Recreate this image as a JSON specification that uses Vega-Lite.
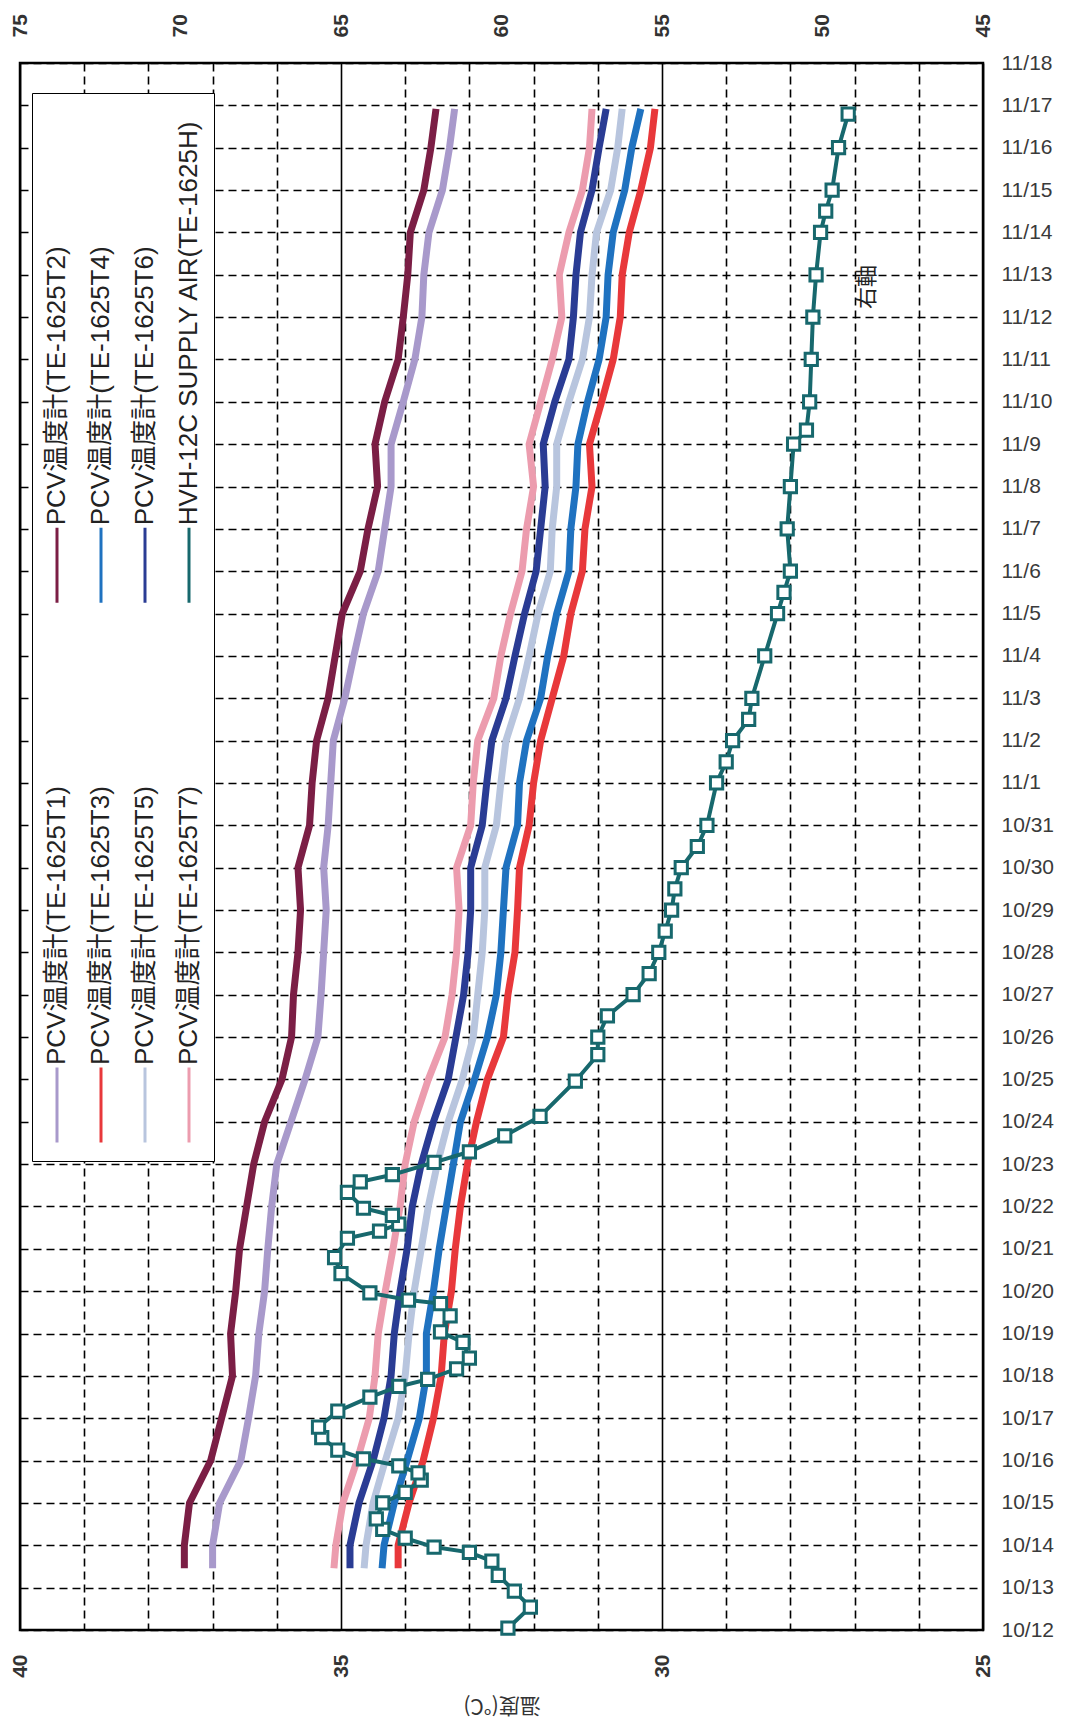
{
  "$schema": "https://vega.github.io/schema/vega-lite/v6.json",
  "width": 963,
  "height": 1567,
  "autosize": {"type": "none"},
  "padding": {"left": 20, "top": 63, "right": 85, "bottom": 92},
  "background": "white",
  "config": {
    "view": {"stroke": "black", "strokeWidth": 2.5},
    "font": "Liberation Sans, Noto Sans CJK JP"
  },
  "datasets": {
    "pcv": [
      {"date": "2011-10-13T11:00", "PCV温度計(TE-1625T1)": 37.0, "PCV温度計(TE-1625T2)": 37.44, "PCV温度計(TE-1625T3)": 34.11, "PCV温度計(TE-1625T4)": 34.36, "PCV温度計(TE-1625T5)": 34.64, "PCV温度計(TE-1625T6)": 34.86, "PCV温度計(TE-1625T7)": 35.11},
      {"date": "2011-10-14T00:00", "PCV温度計(TE-1625T1)": 37.0, "PCV温度計(TE-1625T2)": 37.44, "PCV温度計(TE-1625T3)": 34.11, "PCV温度計(TE-1625T4)": 34.33, "PCV温度計(TE-1625T5)": 34.61, "PCV温度計(TE-1625T6)": 34.86, "PCV温度計(TE-1625T7)": 35.08},
      {"date": "2011-10-15T00:00", "PCV温度計(TE-1625T1)": 36.89, "PCV温度計(TE-1625T2)": 37.36, "PCV温度計(TE-1625T3)": 33.94, "PCV温度計(TE-1625T4)": 34.17, "PCV温度計(TE-1625T5)": 34.5, "PCV温度計(TE-1625T6)": 34.72, "PCV温度計(TE-1625T7)": 34.97},
      {"date": "2011-10-16T00:00", "PCV温度計(TE-1625T1)": 36.56, "PCV温度計(TE-1625T2)": 37.03, "PCV温度計(TE-1625T3)": 33.72, "PCV温度計(TE-1625T4)": 33.97, "PCV温度計(TE-1625T5)": 34.31, "PCV温度計(TE-1625T6)": 34.5, "PCV温度計(TE-1625T7)": 34.75},
      {"date": "2011-10-17T00:00", "PCV温度計(TE-1625T1)": 36.44, "PCV温度計(TE-1625T2)": 36.86, "PCV温度計(TE-1625T3)": 33.56, "PCV温度計(TE-1625T4)": 33.78, "PCV温度計(TE-1625T5)": 34.11, "PCV温度計(TE-1625T6)": 34.33, "PCV温度計(TE-1625T7)": 34.56},
      {"date": "2011-10-18T00:00", "PCV温度計(TE-1625T1)": 36.33, "PCV温度計(TE-1625T2)": 36.69, "PCV温度計(TE-1625T3)": 33.44, "PCV温度計(TE-1625T4)": 33.67, "PCV温度計(TE-1625T5)": 34.0, "PCV温度計(TE-1625T6)": 34.22, "PCV温度計(TE-1625T7)": 34.47},
      {"date": "2011-10-19T00:00", "PCV温度計(TE-1625T1)": 36.28, "PCV温度計(TE-1625T2)": 36.72, "PCV温度計(TE-1625T3)": 33.39, "PCV温度計(TE-1625T4)": 33.67, "PCV温度計(TE-1625T5)": 33.94, "PCV温度計(TE-1625T6)": 34.17, "PCV温度計(TE-1625T7)": 34.42},
      {"date": "2011-10-20T00:00", "PCV温度計(TE-1625T1)": 36.19, "PCV温度計(TE-1625T2)": 36.64, "PCV温度計(TE-1625T3)": 33.28, "PCV温度計(TE-1625T4)": 33.56, "PCV温度計(TE-1625T5)": 33.86, "PCV温度計(TE-1625T6)": 34.08, "PCV温度計(TE-1625T7)": 34.31},
      {"date": "2011-10-21T00:00", "PCV温度計(TE-1625T1)": 36.14, "PCV温度計(TE-1625T2)": 36.58, "PCV温度計(TE-1625T3)": 33.22, "PCV温度計(TE-1625T4)": 33.47, "PCV温度計(TE-1625T5)": 33.75, "PCV温度計(TE-1625T6)": 33.97, "PCV温度計(TE-1625T7)": 34.19},
      {"date": "2011-10-22T00:00", "PCV温度計(TE-1625T1)": 36.08, "PCV温度計(TE-1625T2)": 36.47, "PCV温度計(TE-1625T3)": 33.14, "PCV温度計(TE-1625T4)": 33.36, "PCV温度計(TE-1625T5)": 33.64, "PCV温度計(TE-1625T6)": 33.89, "PCV温度計(TE-1625T7)": 34.08},
      {"date": "2011-10-23T00:00", "PCV温度計(TE-1625T1)": 36.0, "PCV温度計(TE-1625T2)": 36.36, "PCV温度計(TE-1625T3)": 33.03, "PCV温度計(TE-1625T4)": 33.25, "PCV温度計(TE-1625T5)": 33.5, "PCV温度計(TE-1625T6)": 33.75, "PCV温度計(TE-1625T7)": 34.0},
      {"date": "2011-10-24T00:00", "PCV温度計(TE-1625T1)": 35.78, "PCV温度計(TE-1625T2)": 36.19, "PCV温度計(TE-1625T3)": 32.89, "PCV温度計(TE-1625T4)": 33.14, "PCV温度計(TE-1625T5)": 33.33, "PCV温度計(TE-1625T6)": 33.56, "PCV温度計(TE-1625T7)": 33.86},
      {"date": "2011-10-25T00:00", "PCV温度計(TE-1625T1)": 35.56, "PCV温度計(TE-1625T2)": 35.92, "PCV温度計(TE-1625T3)": 32.72, "PCV温度計(TE-1625T4)": 32.92, "PCV温度計(TE-1625T5)": 33.11, "PCV温度計(TE-1625T6)": 33.33, "PCV温度計(TE-1625T7)": 33.64},
      {"date": "2011-10-26T00:00", "PCV温度計(TE-1625T1)": 35.36, "PCV温度計(TE-1625T2)": 35.77, "PCV温度計(TE-1625T3)": 32.47, "PCV温度計(TE-1625T4)": 32.72, "PCV温度計(TE-1625T5)": 32.94, "PCV温度計(TE-1625T6)": 33.21, "PCV温度計(TE-1625T7)": 33.38},
      {"date": "2011-10-27T00:00", "PCV温度計(TE-1625T1)": 35.31, "PCV温度計(TE-1625T2)": 35.74, "PCV温度計(TE-1625T3)": 32.4, "PCV温度計(TE-1625T4)": 32.58, "PCV温度計(TE-1625T5)": 32.87, "PCV温度計(TE-1625T6)": 33.09, "PCV温度計(TE-1625T7)": 33.27},
      {"date": "2011-10-28T00:00", "PCV温度計(TE-1625T1)": 35.27, "PCV温度計(TE-1625T2)": 35.67, "PCV温度計(TE-1625T3)": 32.29, "PCV温度計(TE-1625T4)": 32.51, "PCV温度計(TE-1625T5)": 32.8, "PCV温度計(TE-1625T6)": 33.02, "PCV温度計(TE-1625T7)": 33.2},
      {"date": "2011-10-29T00:00", "PCV温度計(TE-1625T1)": 35.23, "PCV温度計(TE-1625T2)": 35.63, "PCV温度計(TE-1625T3)": 32.25, "PCV温度計(TE-1625T4)": 32.47, "PCV温度計(TE-1625T5)": 32.76, "PCV温度計(TE-1625T6)": 32.98, "PCV温度計(TE-1625T7)": 33.16},
      {"date": "2011-10-30T00:00", "PCV温度計(TE-1625T1)": 35.27, "PCV温度計(TE-1625T2)": 35.67, "PCV温度計(TE-1625T3)": 32.22, "PCV温度計(TE-1625T4)": 32.43, "PCV温度計(TE-1625T5)": 32.76, "PCV温度計(TE-1625T6)": 32.98, "PCV温度計(TE-1625T7)": 33.2},
      {"date": "2011-10-31T00:00", "PCV温度計(TE-1625T1)": 35.2, "PCV温度計(TE-1625T2)": 35.49, "PCV温度計(TE-1625T3)": 32.07, "PCV温度計(TE-1625T4)": 32.25, "PCV温度計(TE-1625T5)": 32.58, "PCV温度計(TE-1625T6)": 32.8, "PCV温度計(TE-1625T7)": 32.98},
      {"date": "2011-11-01T00:00", "PCV温度計(TE-1625T1)": 35.16, "PCV温度計(TE-1625T2)": 35.45, "PCV温度計(TE-1625T3)": 32.0, "PCV温度計(TE-1625T4)": 32.22, "PCV温度計(TE-1625T5)": 32.51, "PCV温度計(TE-1625T6)": 32.73, "PCV温度計(TE-1625T7)": 32.94},
      {"date": "2011-11-02T00:00", "PCV温度計(TE-1625T1)": 35.12, "PCV温度計(TE-1625T2)": 35.38, "PCV温度計(TE-1625T3)": 31.89, "PCV温度計(TE-1625T4)": 32.11, "PCV温度計(TE-1625T5)": 32.43, "PCV温度計(TE-1625T6)": 32.65, "PCV温度計(TE-1625T7)": 32.87},
      {"date": "2011-11-03T00:00", "PCV温度計(TE-1625T1)": 34.94, "PCV温度計(TE-1625T2)": 35.2, "PCV温度計(TE-1625T3)": 31.71, "PCV温度計(TE-1625T4)": 31.89, "PCV温度計(TE-1625T5)": 32.22, "PCV温度計(TE-1625T6)": 32.43, "PCV温度計(TE-1625T7)": 32.62},
      {"date": "2011-11-04T00:00", "PCV温度計(TE-1625T1)": 34.8, "PCV温度計(TE-1625T2)": 35.09, "PCV温度計(TE-1625T3)": 31.53, "PCV温度計(TE-1625T4)": 31.78, "PCV温度計(TE-1625T5)": 32.07, "PCV温度計(TE-1625T6)": 32.29, "PCV温度計(TE-1625T7)": 32.51},
      {"date": "2011-11-05T00:00", "PCV温度計(TE-1625T1)": 34.65, "PCV温度計(TE-1625T2)": 34.98, "PCV温度計(TE-1625T3)": 31.42, "PCV温度計(TE-1625T4)": 31.64, "PCV温度計(TE-1625T5)": 31.93, "PCV温度計(TE-1625T6)": 32.14, "PCV温度計(TE-1625T7)": 32.36},
      {"date": "2011-11-06T00:00", "PCV温度計(TE-1625T1)": 34.42, "PCV温度計(TE-1625T2)": 34.7, "PCV温度計(TE-1625T3)": 31.24, "PCV温度計(TE-1625T4)": 31.45, "PCV温度計(TE-1625T5)": 31.74, "PCV温度計(TE-1625T6)": 31.96, "PCV温度計(TE-1625T7)": 32.18},
      {"date": "2011-11-07T00:00", "PCV温度計(TE-1625T1)": 34.32, "PCV温度計(TE-1625T2)": 34.58, "PCV温度計(TE-1625T3)": 31.2, "PCV温度計(TE-1625T4)": 31.42, "PCV温度計(TE-1625T5)": 31.71, "PCV温度計(TE-1625T6)": 31.89, "PCV温度計(TE-1625T7)": 32.11},
      {"date": "2011-11-08T00:00", "PCV温度計(TE-1625T1)": 34.22, "PCV温度計(TE-1625T2)": 34.43, "PCV温度計(TE-1625T3)": 31.09, "PCV温度計(TE-1625T4)": 31.34, "PCV温度計(TE-1625T5)": 31.64, "PCV温度計(TE-1625T6)": 31.82, "PCV温度計(TE-1625T7)": 32.0},
      {"date": "2011-11-09T00:00", "PCV温度計(TE-1625T1)": 34.22, "PCV温度計(TE-1625T2)": 34.47, "PCV温度計(TE-1625T3)": 31.13, "PCV温度計(TE-1625T4)": 31.31, "PCV温度計(TE-1625T5)": 31.64, "PCV温度計(TE-1625T6)": 31.85, "PCV温度計(TE-1625T7)": 32.07},
      {"date": "2011-11-10T00:00", "PCV温度計(TE-1625T1)": 34.03, "PCV温度計(TE-1625T2)": 34.32, "PCV温度計(TE-1625T3)": 30.94, "PCV温度計(TE-1625T4)": 31.16, "PCV温度計(TE-1625T5)": 31.45, "PCV温度計(TE-1625T6)": 31.67, "PCV温度計(TE-1625T7)": 31.89},
      {"date": "2011-11-11T00:00", "PCV温度計(TE-1625T1)": 33.85, "PCV温度計(TE-1625T2)": 34.11, "PCV温度計(TE-1625T3)": 30.76, "PCV温度計(TE-1625T4)": 30.98, "PCV温度計(TE-1625T5)": 31.24, "PCV温度計(TE-1625T6)": 31.45, "PCV温度計(TE-1625T7)": 31.71},
      {"date": "2011-11-12T00:00", "PCV温度計(TE-1625T1)": 33.74, "PCV温度計(TE-1625T2)": 34.03, "PCV温度計(TE-1625T3)": 30.65, "PCV温度計(TE-1625T4)": 30.87, "PCV温度計(TE-1625T5)": 31.13, "PCV温度計(TE-1625T6)": 31.38, "PCV温度計(TE-1625T7)": 31.56},
      {"date": "2011-11-13T00:00", "PCV温度計(TE-1625T1)": 33.71, "PCV温度計(TE-1625T2)": 33.96, "PCV温度計(TE-1625T3)": 30.62, "PCV温度計(TE-1625T4)": 30.84, "PCV温度計(TE-1625T5)": 31.09, "PCV温度計(TE-1625T6)": 31.34, "PCV温度計(TE-1625T7)": 31.6},
      {"date": "2011-11-14T00:00", "PCV温度計(TE-1625T1)": 33.63, "PCV温度計(TE-1625T2)": 33.92, "PCV温度計(TE-1625T3)": 30.51, "PCV温度計(TE-1625T4)": 30.76, "PCV温度計(TE-1625T5)": 31.02, "PCV温度計(TE-1625T6)": 31.27, "PCV温度計(TE-1625T7)": 31.45},
      {"date": "2011-11-15T00:00", "PCV温度計(TE-1625T1)": 33.42, "PCV温度計(TE-1625T2)": 33.71, "PCV温度計(TE-1625T3)": 30.33, "PCV温度計(TE-1625T4)": 30.58, "PCV温度計(TE-1625T5)": 30.8, "PCV温度計(TE-1625T6)": 31.09, "PCV温度計(TE-1625T7)": 31.24},
      {"date": "2011-11-16T00:00", "PCV温度計(TE-1625T1)": 33.31, "PCV温度計(TE-1625T2)": 33.6, "PCV温度計(TE-1625T3)": 30.18, "PCV温度計(TE-1625T4)": 30.47, "PCV温度計(TE-1625T5)": 30.69, "PCV温度計(TE-1625T6)": 30.98, "PCV温度計(TE-1625T7)": 31.13},
      {"date": "2011-11-16T22:00", "PCV温度計(TE-1625T1)": 33.23, "PCV温度計(TE-1625T2)": 33.52, "PCV温度計(TE-1625T3)": 30.11, "PCV温度計(TE-1625T4)": 30.33, "PCV温度計(TE-1625T5)": 30.62, "PCV温度計(TE-1625T6)": 30.87, "PCV温度計(TE-1625T7)": 31.09}
    ],
    "hvh": [
      {"date": "2011-10-12T01:00", "HVH-12C SUPPLY AIR(TE-1625H)": 59.8},
      {"date": "2011-10-12T13:00", "HVH-12C SUPPLY AIR(TE-1625H)": 59.1},
      {"date": "2011-10-12T22:00", "HVH-12C SUPPLY AIR(TE-1625H)": 59.6},
      {"date": "2011-10-13T07:00", "HVH-12C SUPPLY AIR(TE-1625H)": 60.1},
      {"date": "2011-10-13T15:00", "HVH-12C SUPPLY AIR(TE-1625H)": 60.3},
      {"date": "2011-10-13T20:00", "HVH-12C SUPPLY AIR(TE-1625H)": 61.0},
      {"date": "2011-10-13T23:00", "HVH-12C SUPPLY AIR(TE-1625H)": 62.1},
      {"date": "2011-10-14T04:00", "HVH-12C SUPPLY AIR(TE-1625H)": 63.0},
      {"date": "2011-10-14T09:00", "HVH-12C SUPPLY AIR(TE-1625H)": 63.7},
      {"date": "2011-10-14T15:00", "HVH-12C SUPPLY AIR(TE-1625H)": 63.9},
      {"date": "2011-10-15T00:00", "HVH-12C SUPPLY AIR(TE-1625H)": 63.7},
      {"date": "2011-10-15T06:00", "HVH-12C SUPPLY AIR(TE-1625H)": 63.0},
      {"date": "2011-10-15T13:00", "HVH-12C SUPPLY AIR(TE-1625H)": 62.5},
      {"date": "2011-10-15T17:00", "HVH-12C SUPPLY AIR(TE-1625H)": 62.6},
      {"date": "2011-10-15T21:00", "HVH-12C SUPPLY AIR(TE-1625H)": 63.2},
      {"date": "2011-10-16T01:00", "HVH-12C SUPPLY AIR(TE-1625H)": 64.3},
      {"date": "2011-10-16T06:00", "HVH-12C SUPPLY AIR(TE-1625H)": 65.1},
      {"date": "2011-10-16T13:00", "HVH-12C SUPPLY AIR(TE-1625H)": 65.6},
      {"date": "2011-10-16T19:00", "HVH-12C SUPPLY AIR(TE-1625H)": 65.7},
      {"date": "2011-10-17T04:00", "HVH-12C SUPPLY AIR(TE-1625H)": 65.1},
      {"date": "2011-10-17T12:00", "HVH-12C SUPPLY AIR(TE-1625H)": 64.1},
      {"date": "2011-10-17T18:00", "HVH-12C SUPPLY AIR(TE-1625H)": 63.2},
      {"date": "2011-10-17T22:00", "HVH-12C SUPPLY AIR(TE-1625H)": 62.3},
      {"date": "2011-10-18T04:00", "HVH-12C SUPPLY AIR(TE-1625H)": 61.4},
      {"date": "2011-10-18T10:00", "HVH-12C SUPPLY AIR(TE-1625H)": 61.0},
      {"date": "2011-10-18T19:00", "HVH-12C SUPPLY AIR(TE-1625H)": 61.2},
      {"date": "2011-10-19T01:00", "HVH-12C SUPPLY AIR(TE-1625H)": 61.9},
      {"date": "2011-10-19T10:00", "HVH-12C SUPPLY AIR(TE-1625H)": 61.6},
      {"date": "2011-10-19T17:00", "HVH-12C SUPPLY AIR(TE-1625H)": 61.9},
      {"date": "2011-10-19T19:00", "HVH-12C SUPPLY AIR(TE-1625H)": 62.9},
      {"date": "2011-10-19T23:00", "HVH-12C SUPPLY AIR(TE-1625H)": 64.1},
      {"date": "2011-10-20T10:00", "HVH-12C SUPPLY AIR(TE-1625H)": 65.0},
      {"date": "2011-10-20T19:00", "HVH-12C SUPPLY AIR(TE-1625H)": 65.2},
      {"date": "2011-10-21T06:00", "HVH-12C SUPPLY AIR(TE-1625H)": 64.8},
      {"date": "2011-10-21T10:00", "HVH-12C SUPPLY AIR(TE-1625H)": 63.8},
      {"date": "2011-10-21T14:00", "HVH-12C SUPPLY AIR(TE-1625H)": 63.2},
      {"date": "2011-10-21T19:00", "HVH-12C SUPPLY AIR(TE-1625H)": 63.4},
      {"date": "2011-10-21T23:00", "HVH-12C SUPPLY AIR(TE-1625H)": 64.3},
      {"date": "2011-10-22T08:00", "HVH-12C SUPPLY AIR(TE-1625H)": 64.8},
      {"date": "2011-10-22T14:00", "HVH-12C SUPPLY AIR(TE-1625H)": 64.4},
      {"date": "2011-10-22T18:00", "HVH-12C SUPPLY AIR(TE-1625H)": 63.4},
      {"date": "2011-10-23T01:00", "HVH-12C SUPPLY AIR(TE-1625H)": 62.1},
      {"date": "2011-10-23T07:00", "HVH-12C SUPPLY AIR(TE-1625H)": 61.0},
      {"date": "2011-10-23T16:00", "HVH-12C SUPPLY AIR(TE-1625H)": 59.9},
      {"date": "2011-10-24T03:00", "HVH-12C SUPPLY AIR(TE-1625H)": 58.8},
      {"date": "2011-10-24T23:00", "HVH-12C SUPPLY AIR(TE-1625H)": 57.7},
      {"date": "2011-10-25T14:00", "HVH-12C SUPPLY AIR(TE-1625H)": 57.0},
      {"date": "2011-10-26T00:00", "HVH-12C SUPPLY AIR(TE-1625H)": 57.0},
      {"date": "2011-10-26T12:00", "HVH-12C SUPPLY AIR(TE-1625H)": 56.7},
      {"date": "2011-10-27T00:00", "HVH-12C SUPPLY AIR(TE-1625H)": 55.9},
      {"date": "2011-10-27T12:00", "HVH-12C SUPPLY AIR(TE-1625H)": 55.4},
      {"date": "2011-10-28T00:00", "HVH-12C SUPPLY AIR(TE-1625H)": 55.1},
      {"date": "2011-10-28T12:00", "HVH-12C SUPPLY AIR(TE-1625H)": 54.9},
      {"date": "2011-10-29T00:00", "HVH-12C SUPPLY AIR(TE-1625H)": 54.7},
      {"date": "2011-10-29T12:00", "HVH-12C SUPPLY AIR(TE-1625H)": 54.6},
      {"date": "2011-10-30T00:00", "HVH-12C SUPPLY AIR(TE-1625H)": 54.4},
      {"date": "2011-10-30T12:00", "HVH-12C SUPPLY AIR(TE-1625H)": 53.9},
      {"date": "2011-10-31T00:00", "HVH-12C SUPPLY AIR(TE-1625H)": 53.6},
      {"date": "2011-11-01T00:00", "HVH-12C SUPPLY AIR(TE-1625H)": 53.3},
      {"date": "2011-11-01T12:00", "HVH-12C SUPPLY AIR(TE-1625H)": 53.0},
      {"date": "2011-11-02T00:00", "HVH-12C SUPPLY AIR(TE-1625H)": 52.8},
      {"date": "2011-11-02T12:00", "HVH-12C SUPPLY AIR(TE-1625H)": 52.3},
      {"date": "2011-11-03T00:00", "HVH-12C SUPPLY AIR(TE-1625H)": 52.2},
      {"date": "2011-11-04T00:00", "HVH-12C SUPPLY AIR(TE-1625H)": 51.8},
      {"date": "2011-11-05T00:00", "HVH-12C SUPPLY AIR(TE-1625H)": 51.4},
      {"date": "2011-11-05T12:00", "HVH-12C SUPPLY AIR(TE-1625H)": 51.2},
      {"date": "2011-11-06T00:00", "HVH-12C SUPPLY AIR(TE-1625H)": 51.0},
      {"date": "2011-11-07T00:00", "HVH-12C SUPPLY AIR(TE-1625H)": 51.1},
      {"date": "2011-11-08T00:00", "HVH-12C SUPPLY AIR(TE-1625H)": 51.0},
      {"date": "2011-11-09T00:00", "HVH-12C SUPPLY AIR(TE-1625H)": 50.9},
      {"date": "2011-11-09T08:00", "HVH-12C SUPPLY AIR(TE-1625H)": 50.5},
      {"date": "2011-11-10T00:00", "HVH-12C SUPPLY AIR(TE-1625H)": 50.4},
      {"date": "2011-11-11T00:00", "HVH-12C SUPPLY AIR(TE-1625H)": 50.35},
      {"date": "2011-11-12T00:00", "HVH-12C SUPPLY AIR(TE-1625H)": 50.3},
      {"date": "2011-11-13T00:00", "HVH-12C SUPPLY AIR(TE-1625H)": 50.2},
      {"date": "2011-11-14T00:00", "HVH-12C SUPPLY AIR(TE-1625H)": 50.06},
      {"date": "2011-11-14T12:00", "HVH-12C SUPPLY AIR(TE-1625H)": 49.9},
      {"date": "2011-11-15T00:00", "HVH-12C SUPPLY AIR(TE-1625H)": 49.7},
      {"date": "2011-11-16T00:00", "HVH-12C SUPPLY AIR(TE-1625H)": 49.5},
      {"date": "2011-11-16T19:00", "HVH-12C SUPPLY AIR(TE-1625H)": 49.2}
    ]
  },
  "resolve": {"scale": {"x": "independent"}, "axis": {"x": "independent"}},
  "layer": [
    {
      "data": {"name": "pcv"},
      "transform": [{"fold": ["PCV温度計(TE-1625T1)", "PCV温度計(TE-1625T2)", "PCV温度計(TE-1625T3)", "PCV温度計(TE-1625T4)", "PCV温度計(TE-1625T5)", "PCV温度計(TE-1625T6)", "PCV温度計(TE-1625T7)"], "as": ["series", "temp"]}],
      "mark": {"type": "line", "strokeWidth": 7},
      "encoding": {
        "x": {
          "field": "temp", "type": "quantitative",
          "scale": {"domain": [25, 40], "reverse": true, "nice": false, "zero": false},
          "axis": {
            "orient": "bottom",
            "values": [25, 26, 27, 28, 29, 30, 31, 32, 33, 34, 35, 36, 37, 38, 39, 40],
            "labelExpr": "datum.value % 5 === 0 ? datum.label : ''",
            "grid": true, "gridColor": "black", "gridOpacity": 1, "gridWidth": 1.6,
            "gridDash": {"condition": {"test": "datum.value % 5 === 0", "value": [1, 0]}, "value": [8, 5]},
            "ticks": false, "domain": false,
            "labelAngle": 270, "labelAlign": "right", "labelBaseline": "middle",
            "labelFontSize": 21, "labelFontWeight": "bold", "labelColor": "#333",
            "labelPadding": 24, "labelFlush": false, "labelOverlap": false,
            "title": "温度(°C)", "titleAngle": 180, "titleFontSize": 21, "titleFontWeight": "normal",
            "titleColor": "#333", "titleBaseline": "middle", "titleY": 74, "titleFont": "Noto Sans CJK JP"
          }
        },
        "y": {
          "field": "date", "type": "temporal",
          "scale": {"domain": [{"year": 2011, "month": 10, "date": 12}, {"year": 2011, "month": 11, "date": 18}]},
          "axis": {
            "orient": "right",
            "tickCount": {"interval": "day", "step": 1},
            "format": "%-m/%-d",
            "grid": true, "gridColor": "black", "gridOpacity": 1, "gridWidth": 1.6, "gridDash": [8, 5],
            "ticks": false, "domain": false,
            "labelFontSize": 21, "labelColor": "#3a3a3a", "labelPadding": 18,
            "labelFlush": false, "labelOverlap": false,
            "title": null
          }
        },
        "color": {
          "field": "series", "type": "nominal",
          "scale": {
            "domain": ["PCV温度計(TE-1625T2)", "PCV温度計(TE-1625T4)", "PCV温度計(TE-1625T6)", "HVH-12C SUPPLY AIR(TE-1625H)", "PCV温度計(TE-1625T1)", "PCV温度計(TE-1625T3)", "PCV温度計(TE-1625T5)", "PCV温度計(TE-1625T7)"],
            "range": ["#7b1e45", "#1f72c0", "#2a3c94", "#17686d", "#a899cb", "#e8383b", "#b8c5de", "#ec9cae"]
          },
          "legend": {
            "orient": "none", "legendX": 12, "legendY": 30,
            "direction": "horizontal", "columns": 4,
            "title": null,
            "strokeColor": "black", "fillColor": "white", "padding": 12,
            "labelFont": "Liberation Sans, Noto Sans CJK JP", "labelFontSize": 26, "labelColor": "#222",
            "labelLimit": 2000, "labelOffset": 0,
            "labelAlign": "left", "labelBaseline": "middle",
            "symbolType": "stroke", "symbolSize": 5625, "symbolStrokeWidth": 3,
            "columnPadding": 17, "rowPadding": 36,
            "encoding": {
              "symbols": {"angle": {"value": 90}, "x": {"value": 13}, "y": {"value": 460}},
              "labels": {"angle": {"value": -90}, "dx": {"value": -381}, "dy": {"value": -65}}
            }
          }
        },
        "order": {"field": "date", "type": "temporal"},
        "strokeWidth": {"condition": {"test": "datum.series === 'PCV温度計(TE-1625T3)'", "value": 12}, "value": 7}
      }
    },
    {
      "data": {"name": "hvh"},
      "transform": [{"fold": ["HVH-12C SUPPLY AIR(TE-1625H)"], "as": ["series", "temp"]}],
      "encoding": {
        "x": {
          "field": "temp", "type": "quantitative",
          "scale": {"domain": [45, 75], "reverse": true, "nice": false, "zero": false},
          "axis": {
            "orient": "top",
            "values": [45, 50, 55, 60, 65, 70, 75],
            "grid": false, "ticks": false, "domain": false,
            "labelAngle": 270, "labelAlign": "left", "labelBaseline": "middle",
            "labelFontSize": 21, "labelFontWeight": "bold", "labelColor": "#333",
            "labelPadding": 26, "labelFlush": false, "labelOverlap": false,
            "title": null
          }
        },
        "y": {"field": "date", "type": "temporal"}
      },
      "layer": [
        {
          "mark": {"type": "line", "strokeWidth": 4},
          "encoding": {
            "color": {"field": "series", "type": "nominal"},
            "order": {"field": "date", "type": "temporal"}
          }
        },
        {
          "mark": {"type": "point", "shape": "square", "filled": false, "fill": "white", "fillOpacity": 1, "stroke": "#17686d", "strokeWidth": 3, "size": 150, "opacity": 1}
        }
      ]
    },
    {
      "data": {"values": [{"label": "右軸"}]},
      "mark": {"type": "text", "angle": 270, "fontSize": 22, "font": "Noto Sans CJK JP", "color": "#222", "align": "center", "baseline": "middle"},
      "encoding": {
        "x": {"datum": 48.6, "type": "quantitative", "scale": {"domain": [45, 75], "reverse": true, "nice": false, "zero": false}, "axis": null},
        "y": {"datum": {"year": 2011, "month": 11, "date": 12, "hours": 17}, "type": "temporal"},
        "text": {"field": "label"}
      }
    }
  ]
}
